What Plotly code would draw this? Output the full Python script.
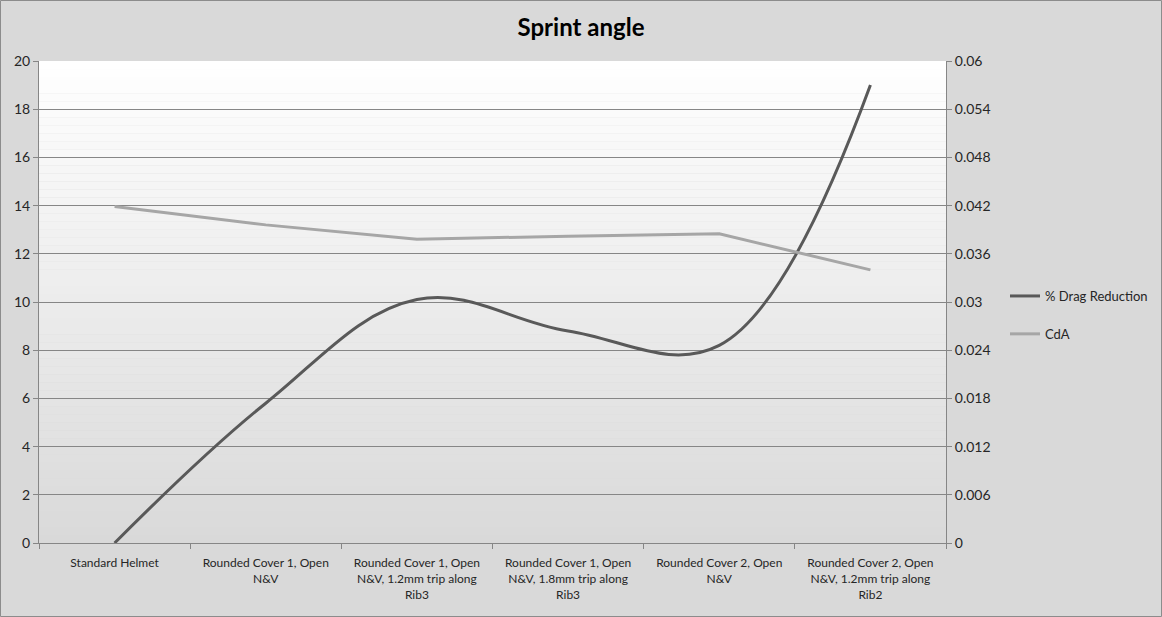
import plotly.graph_objects as go

categories = [
    "Standard Helmet",
    "Rounded Cover 1, Open<br>N&V",
    "Rounded Cover 1, Open<br>N&V, 1.2mm trip along<br>Rib3",
    "Rounded Cover 1, Open<br>N&V, 1.8mm trip along<br>Rib3",
    "Rounded Cover 2, Open<br>N&V",
    "Rounded Cover 2, Open<br>N&V, 1.2mm trip along<br>Rib2",
]
drag_reduction = [0.0, 5.8, 10.1, 8.8, 8.2, 19.0]
cda = [0.0419, 0.0396, 0.0378, 0.0382, 0.0385, 0.0340]

left_ticks = list(range(0, 21, 2))
right_tickvals = [0, 0.006, 0.012, 0.018, 0.024, 0.03, 0.036, 0.042, 0.048, 0.054, 0.06]
right_ticktext = ["0", "0.006", "0.012", "0.018", "0.024", "0.03", "0.036", "0.042", "0.048", "0.054", "0.06"]

FONT = "Lato"
W, H = 1162, 617
ML, MR, MT, MB = 39, 216, 61, 74
PW, PH = W - ML - MR, H - MT - MB

fig = go.Figure()
fig.add_trace(go.Scatter(
    x=categories, y=drag_reduction, name="% Drag Reduction", mode="lines",
    line=dict(color="#595959", width=3, shape="spline", smoothing=1.1),
    legendgroup="a",
))
fig.add_trace(go.Scatter(
    x=categories, y=cda, name="CdA", mode="lines", yaxis="y2",
    line=dict(color="#a6a6a6", width=3),
    legendgroup="b",
))

# gradient plot background
shapes = []
n = 60
top = (255, 255, 255)
bot = (217, 217, 217)
for i in range(n):
    t = (i + 0.5) / n
    c = tuple(int(round(top[k] + (bot[k] - top[k]) * t)) for k in range(3))
    shapes.append(dict(type="rect", xref="paper", yref="paper",
                       x0=0, x1=1, y0=1 - (i + 1) / n, y1=1 - i / n,
                       fillcolor="rgb(%d,%d,%d)" % c, line=dict(width=0), layer="below"))
# outer border
shapes.append(dict(type="rect", xref="paper", yref="paper",
                   x0=(0.5 - ML) / PW, x1=(W - 0.5 - ML) / PW,
                   y0=(-MB + 0.5) / PH, y1=(H - MB - 0.5) / PH,
                   line=dict(color="#8c8c8c", width=1), fillcolor="rgba(0,0,0,0)", layer="above"))

fig.update_layout(
    width=W, height=H,
    margin=dict(l=ML, r=MR, t=MT, b=MB, autoexpand=False),
    paper_bgcolor="#d9d9d9",
    plot_bgcolor="rgba(0,0,0,0)",
    font=dict(family=FONT, size=12, color="#262626"),
    title=dict(text="<b>Sprint angle</b>", x=581 / W, xref="container", xanchor="center",
               y=1 - 28 / H, yref="container", yanchor="middle",
               font=dict(family=FONT, size=24, color="#000000")),
    xaxis=dict(
        range=[-0.5, 5.5], automargin=False,
        showgrid=False, showline=True, linecolor="#868686", linewidth=1,
        ticks="outside", tickson="boundaries", ticklen=5, tickcolor="#868686",
        tickfont=dict(size=12, color="#262626"), zeroline=False, ticklabelstandoff=9,
    ),
    yaxis=dict(
        range=[0, 20], tickvals=left_ticks, showgrid=True, gridcolor="#868686", gridwidth=1,
        showline=True, linecolor="#868686", ticks="outside", ticklen=5, tickcolor="#868686",
        zeroline=False, tickfont=dict(size=14, color="#262626"), automargin=False,
    ),
    yaxis2=dict(
        range=[0, 0.06], tickvals=right_tickvals, ticktext=right_ticktext, overlaying="y", side="right",
        showgrid=False, showline=True, linecolor="#868686", ticks="outside", ticklen=5, tickcolor="#868686",
        zeroline=False, tickfont=dict(size=14, color="#262626"), automargin=False,
    ),
    legend=dict(x=(1005 - ML) / PW, xanchor="left", y=(H - MB - 315) / PH, yanchor="middle",
                bgcolor="rgba(0,0,0,0)", font=dict(size=13, color="#262626"), tracegroupgap=18),
    shapes=shapes,
    showlegend=True,
)

fig.write_html("out.html", config={"displayModeBar": False},
               post_script="document.body.style.margin='0';document.body.style.padding='0';")
